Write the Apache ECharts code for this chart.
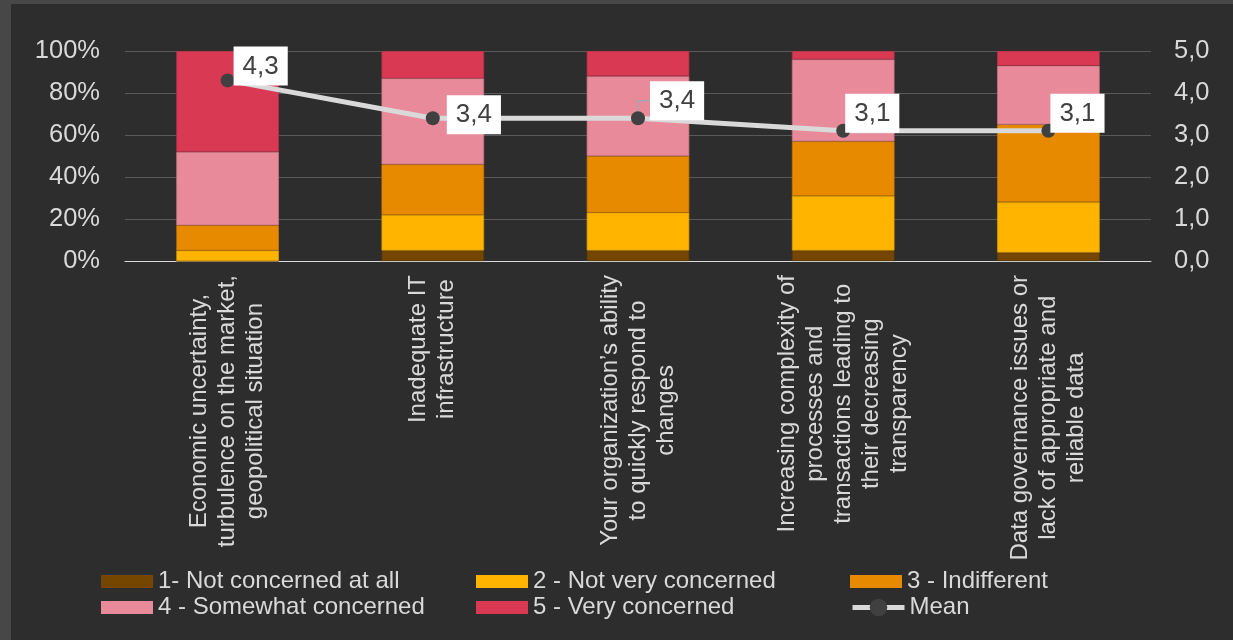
<!DOCTYPE html>
<html>
<head>
<meta charset="utf-8">
<script src="https://cdn.jsdelivr.net/npm/echarts@6/dist/echarts.min.js"></script>
<style>
html,body{margin:0;padding:0;background:#2d2d2d;}
#chart{width:1233px;height:640px;}
</style>
</head>
<body>
<div id="chart"></div>
<script>
const categories = [
  "Economic uncertainty,\nturbulence on the market,\ngeopolitical situation",
  "Inadequate IT\ninfrastructure",
  "Your organization\u2019s ability\nto quickly respond to\nchanges",
  "Increasing complexity of\nprocesses and\ntransactions leading to\ntheir decreasing\ntransparency",
  "Data governance issues or\nlack of appropriate and\nreliable data"
];
const seriesNames = ["1- Not concerned at all", "2 - Not very concerned", "3 - Indifferent", "4 - Somewhat concerned", "5 - Very concerned", "Mean"];
const notConcerned = [0, 5, 5, 5, 4];
const notVeryConcerned = [5, 17, 18, 26, 24];
const indifferent = [12, 24, 27, 26, 37];
const somewhatConcerned = [35, 41, 38, 39, 28];
const veryConcerned = [48, 13, 12, 4, 7];
const meanValues = [4.3, 3.4, 3.4, 3.1, 3.1];
const leftTicks = [0, 20, 40, 60, 80, 100];
const rightTicks = [0, 1, 2, 3, 4, 5];

const colors = ['#744600', '#ffb400', '#e88a00', '#e98a9a', '#da3954'];
const borders = ['#5e3900', '#d99a00', '#c57500', '#c8737f', '#b83048'];
const barData = [notConcerned, notVeryConcerned, indifferent, somewhatConcerned, veryConcerned];

// label box offsets relative to marker center (box left, box top)
const labelOffsets = [[6, -34], [14, -23], [12, -37], [2, -37], [2, -37]];
const leaderIndex = 2;

const chart = echarts.init(document.getElementById('chart'));
const textColor = '#d9d9d9';
const font = 'Liberation Sans, Arial, sans-serif';

const series = barData.map((d, i) => ({
  name: seriesNames[i],
  type: 'bar',
  stack: 'total',
  barWidth: '50%',
  yAxisIndex: 0,
  data: d,
  itemStyle: {color: colors[i], borderColor: borders[i], borderWidth: 0.75},
  emphasis: {disabled: true}
}));

// leader line for the third mean label
series.push({
  type: 'custom',
  yAxisIndex: 1,
  z: 4,
  silent: true,
  data: [[leaderIndex, meanValues[leaderIndex]]],
  renderItem: function (params, api) {
    const p = api.coord([api.value(0), api.value(1)]);
    const o = labelOffsets[leaderIndex];
    const midY = p[1] + o[1] + 19.5;
    return {
      type: 'polyline',
      shape: {points: [[p[0], p[1]], [p[0], midY], [p[0] + o[0], midY]]},
      style: {stroke: '#a6a6a6', lineWidth: 1.5, fill: null}
    };
  }
});

series.push({
  name: seriesNames[5],
  type: 'line',
  yAxisIndex: 1,
  z: 5,
  data: meanValues,
  symbol: 'circle',
  symbolSize: 14,
  itemStyle: {color: '#404040'},
  lineStyle: {color: '#d9d9d9', width: 5},
  label: {
    show: true,
    position: 'right',
    formatter: p => p.value.toFixed(1).replace('.', ','),
    color: '#404040',
    fontSize: 26,
    fontFamily: font,
    backgroundColor: '#ffffff',
    padding: [7, 9, 6, 9],
    lineHeight: 26
  },
  emphasis: {disabled: true}
});

const legendBase = {
  orient: 'vertical',
  padding: 0,
  itemWidth: 52,
  itemHeight: 13,
  itemGap: 2,
  selectedMode: false,
  itemStyle: {borderWidth: 0},
  textStyle: {color: textColor, fontSize: 24, lineHeight: 24, fontFamily: font}
};

chart.setOption({
  backgroundColor: '#2d2d2d',
  animation: false,
  textStyle: {fontFamily: font},
  graphic: [
    {type: 'rect', left: 0, top: 0, shape: {width: 1233, height: 4}, style: {fill: '#474747'}, silent: true},
    {type: 'rect', left: 0, top: 0, shape: {width: 11, height: 640}, style: {fill: '#474747'}, silent: true}
  ],
  grid: {left: 125, right: 82, top: 51, bottom: 379, containLabel: false},
  legend: [
    Object.assign({}, legendBase, {data: [seriesNames[0], seriesNames[3]], left: 101, top: 569.5, icon: 'rect'}),
    Object.assign({}, legendBase, {data: [seriesNames[1], seriesNames[4]], left: 476, top: 569.5, icon: 'rect'}),
    Object.assign({}, legendBase, {data: [seriesNames[2]], left: 850, top: 569.5, icon: 'rect'}),
    Object.assign({}, legendBase, {data: [seriesNames[5]], left: 850, top: 595.5, itemHeight: 22,
      itemStyle: {borderWidth: 0, color: '#404040', borderColor: '#404040'},
      lineStyle: {width: 5, color: '#d9d9d9'}})
  ],
  xAxis: {
    type: 'category',
    data: categories,
    axisLine: {lineStyle: {color: '#d9d9d9', width: 1}},
    axisTick: {show: false},
    axisLabel: {
      interval: 0,
      rotate: 90,
      margin: 14,
      color: textColor,
      formatter: v => v.split('\n').map(s => '{c|' + s + '}').join('\n'),
      rich: {c: {align: 'center', fontSize: 24, lineHeight: 28, color: textColor, fontFamily: font}}
    }
  },
  yAxis: [
    {
      type: 'value', min: 0, max: 100, interval: 20,
      axisLine: {show: false}, axisTick: {show: false},
      splitLine: {lineStyle: {color: '#595959', width: 1}},
      axisLabel: {color: textColor, fontSize: 25.5, margin: 25, padding: [4, 0, 0, 0],
        formatter: v => leftTicks.includes(v) ? v + '%' : ''}
    },
    {
      type: 'value', min: 0, max: 5, interval: 1, position: 'right',
      axisLine: {show: false}, axisTick: {show: false}, splitLine: {show: false},
      axisLabel: {color: textColor, fontSize: 25.5, margin: 23, padding: [4, 0, 0, 0],
        formatter: v => rightTicks.includes(v) ? v.toFixed(1).replace('.', ',') : ''}
    }
  ],
  series: series,
  labelLayout: function (params) {
    if (params.seriesIndex !== 6) return {};
    const i = params.dataIndex;
    const cx = params.rect.x + params.rect.width / 2;
    const cy = params.rect.y + params.rect.height / 2;
    const o = labelOffsets[i];
    return {x: cx + o[0], y: cy + o[1], align: 'left', verticalAlign: 'top'};
  }
});
</script>
</body>
</html>
